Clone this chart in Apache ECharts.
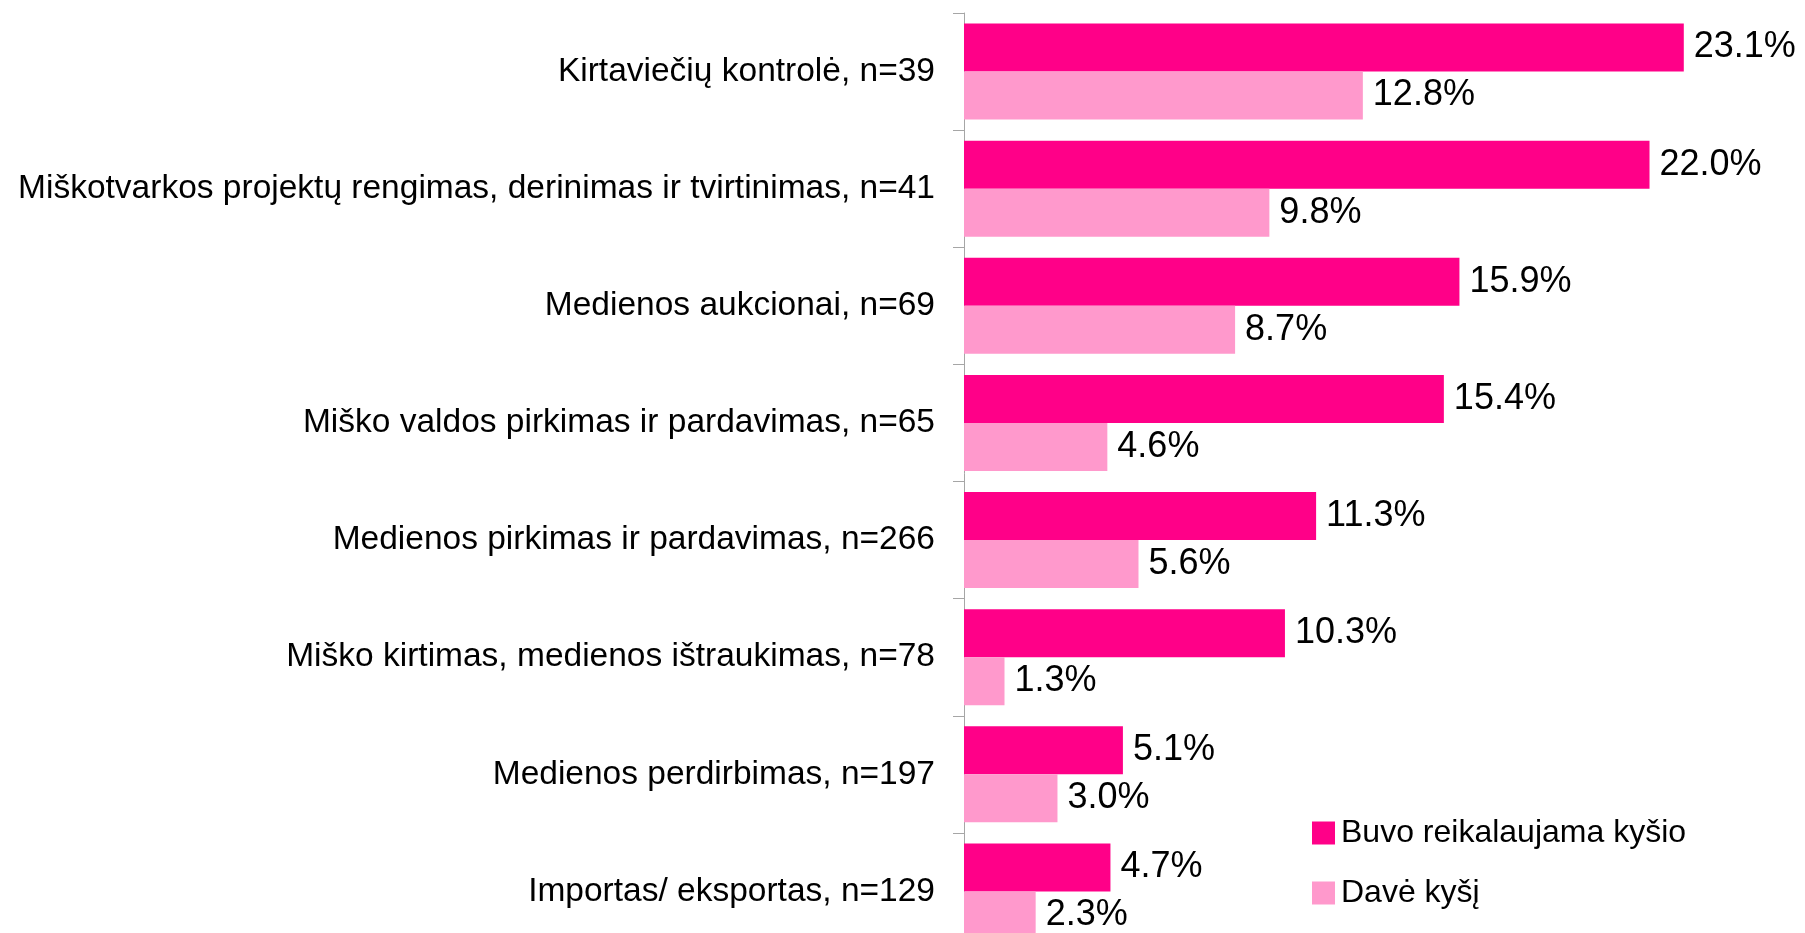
<!DOCTYPE html>
<html>
<head>
<meta charset="utf-8">
<script src="https://cdn.jsdelivr.net/npm/echarts@6/dist/echarts.min.js"></script>
<style>
  html, body { margin: 0; padding: 0; background: #fff; }
  #chart { width: 1805px; height: 933px; }
</style>
</head>
<body>
<div id="chart"></div>
<script>
// categories top to bottom
const categories = [
  'Kirtaviečių kontrolė, n=39',
  'Miškotvarkos projektų rengimas, derinimas ir tvirtinimas, n=41',
  'Medienos aukcionai, n=69',
  'Miško valdos pirkimas ir pardavimas, n=65',
  'Medienos pirkimas ir pardavimas, n=266',
  'Miško kirtimas, medienos ištraukimas, n=78',
  'Medienos perdirbimas, n=197',
  'Importas/ eksportas, n=129'
]
const demanded = [23.1, 22.0, 15.9, 15.4, 11.3, 10.3, 5.1, 4.7]
const gave = [12.8, 9.8, 8.7, 4.6, 5.6, 1.3, 3.0, 2.3]
const seriesNames = ['Buvo reikalaujama kyšio', 'Davė kyšį']

const font = 'Liberation Sans, Arial, sans-serif'
const chart = echarts.init(document.getElementById('chart'))

function barLabel() {
  return {
    show: true,
    position: 'right',
    distance: 10,
    color: '#000',
    fontFamily: font,
    fontSize: 36,
    formatter: function(p) {
      return p.value.toFixed(1) + '%'
    }
  }
}

chart.setOption({
  animation: false,
  grid: {
    left: 964,
    right: 62,
    top: 13,
    bottom: -17,
    containLabel: false,
    outerBoundsMode: 'none'
  },
  legend: {
    orient: 'vertical',
    left: 1307,
    top: 812,
    icon: 'rect',
    itemWidth: 23,
    itemHeight: 23,
    itemGap: 28,
    itemStyle: { borderWidth: 0 },
    textStyle: {
      fontFamily: font,
      fontSize: 32,
      color: '#000',
      padding: [0, 0, 0, 1]
    },
    data: seriesNames
  },
  xAxis: {
    type: 'value',
    min: 0,
    max: 25,
    show: false
  },
  yAxis: {
    type: 'category',
    inverse: true,
    data: categories,
    axisLine: { show: true, lineStyle: { color: '#a6a6a6', width: 1 } },
    axisTick: { show: true, length: 11, lineStyle: { color: '#a6a6a6' } },
    axisLabel: {
      margin: 29,
      color: '#000',
      fontFamily: font,
      fontSize: 33.5
    }
  },
  series: [
    {
      name: seriesNames[0],
      type: 'bar',
      barWidth: 48,
      barGap: '0%',
      itemStyle: { color: '#ff0088' },
      label: barLabel(),
      data: demanded
    },
    {
      name: seriesNames[1],
      type: 'bar',
      barWidth: 48,
      barGap: '0%',
      itemStyle: { color: '#ff99cc' },
      label: barLabel(),
      data: gave
    }
  ]
})
</script>
</body>
</html>
